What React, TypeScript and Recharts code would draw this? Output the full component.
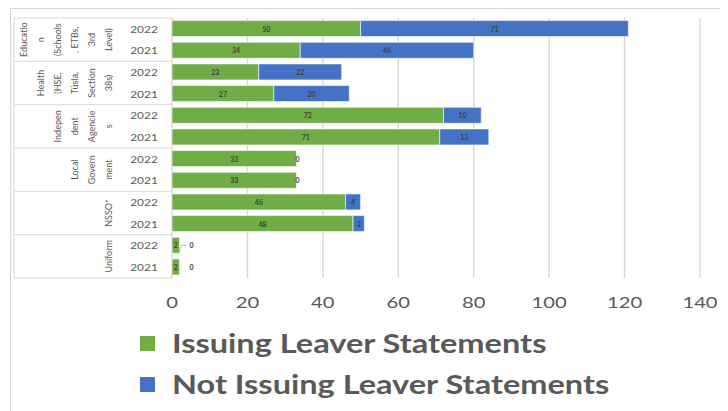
import React from "react";
import { BarChart, Bar, XAxis, YAxis, CartesianGrid, LabelList } from "recharts";

const groupLines: string[][] = [
  ["Educatio", "n", "(Schools", ", ETBs,", "3rd", "Level)"],
  ["Health", "(HSE,", "Túsla,", "Section", "38s)"],
  ["Indepen", "dent", "Agencie", "s"],
  ["Local", "Govern", "ment"],
  ["NSSO*"],
  ["Uniform"],
];
const years = ["2022", "2021"];
const issuing = [50, 34, 23, 27, 72, 71, 33, 33, 46, 48, 2, 2];
const notIssuing = [71, 46, 22, 20, 10, 13, 0, 0, 4, 3, 0, 0];
const xTicks = [0, 20, 40, 60, 80, 100, 120, 140];
const legendItems = ["Issuing Leaver Statements", "Not Issuing Leaver Statements"];

const GREEN = "#70AD47";
const BLUE = "#4472C4";
const TXT = "#595959";
const FONT = "Lato, sans-serif";

const data = issuing.map((v, i) => ({
  key: `${Math.floor(i / 2)}|${years[i % 2]}`,
  year: years[i % 2],
  group: Math.floor(i / 2),
  issuing: v,
  notIssuing: notIssuing[i],
}));

const PLOT_TOP = 18;
const PLOT_BOTTOM = 278;
const PITCH = (PLOT_BOTTOM - PLOT_TOP) / data.length;

const YTick = (props: any) => {
  const { y, index } = props;
  const d = data[index];
  const els: React.ReactNode[] = [];
  els.push(
    <g key="yr" transform={`translate(144 ${y}) scale(1.25 1)`}>
      <text x={0} y={0} textAnchor="middle" dominantBaseline="central" fontSize={9.5} fill={TXT} fontFamily={FONT}>
        {d.year}
      </text>
    </g>
  );
  if (index % 2 === 0) {
    const top = y - PITCH / 2;
    const cy = y + PITCH / 2;
    els.push(<line key="lt" x1={14} x2={172} y1={top} y2={top} stroke="#d9d9d9" strokeWidth={1} />);
    const lines = groupLines[d.group];
    const n = lines.length;
    lines.forEach((t, j) => {
      const cx = 108 - 17 * (n - 1 - j);
      els.push(
        <g key={"g" + j} transform={`translate(${cx} ${cy}) rotate(-90)`}>
          <text x={0} y={0} textAnchor="middle" dominantBaseline="central" fontSize={9} fill={TXT} fontFamily={FONT}>
            {t}
          </text>
        </g>
      );
    });
    if (index === data.length - 2) {
      const bot = y + PITCH * 1.5;
      els.push(<line key="lb" x1={14} x2={172} y1={bot} y2={bot} stroke="#d9d9d9" strokeWidth={1} />);
      els.push(<line key="lv" x1={14} x2={14} y1={PLOT_TOP} y2={bot} stroke="#d9d9d9" strokeWidth={1} />);
    }
  }
  return <g>{els}</g>;
};

const XTick = (props: any) => {
  const { x, payload } = props;
  return (
    <g transform={`translate(${x} 302) scale(1.35 1)`}>
      <text x={0} y={0} textAnchor="middle" dominantBaseline="central" fontSize={15} fill={TXT} fontFamily={FONT}>
        {payload.value}
      </text>
    </g>
  );
};

const SegLabel = (props: any) => {
  const { x, y, width, height, value } = props;
  if (!value) return null;
  return (
    <text x={x + width / 2} y={y + height / 2} textAnchor="middle" dominantBaseline="central" fontSize={7} fontWeight="bold" fill="#404040" fontFamily={FONT}>
      {value}
    </text>
  );
};

// label for zero-valued "not issuing" segments, placed at the end of the green bar
const ZeroLabel = (props: any) => {
  const { x, y, width, height, index } = props;
  const d = data[index];
  if (!d || d.notIssuing !== 0) return null;
  const endX = x + width;
  const small = d.issuing < 5;
  const lx = small ? endX + 12 : endX + 1;
  const cy = y + height / 2;
  return (
    <g>
      {small && d.year === "2022" ? (
        <polyline points={`${endX - 1},${cy + 8} ${endX + 2},${cy} ${endX + 7},${cy}`} fill="none" stroke="#a6a6a6" strokeWidth={0.8} />
      ) : null}
      <text x={lx} y={cy} textAnchor="middle" dominantBaseline="central" fontSize={7} fontWeight="bold" fill="#404040" fontFamily={FONT}>
        0
      </text>
    </g>
  );
};

export default function App() {
  const colors = [GREEN, BLUE];
  return (
    <div style={{ position: "relative", margin: "-8px 0 0 -8px", width: 728, height: 411, background: "#fff", overflow: "hidden" }}>
      <div style={{ position: "absolute", left: 10, top: 8, width: 730, height: 420, border: "1px solid #d9d9d9" }} />
      <BarChart
        width={728}
        height={411}
        data={data}
        layout="vertical"
        margin={{ top: PLOT_TOP, right: 28, bottom: 103, left: 0 }}
        barCategoryGap="12%"
        style={{ position: "absolute", left: 0, top: 0 }}
      >
        <CartesianGrid horizontal={false} stroke="#d9d9d9" strokeWidth={1.5} />
        <XAxis type="number" domain={[0, 140]} ticks={xTicks} axisLine={false} tickLine={false} height={30} tick={<XTick />} interval={0} />
        <YAxis type="category" dataKey="key" width={172} axisLine={false} tickLine={false} tick={<YTick />} interval={0} />
        <Bar dataKey="issuing" stackId="a" fill={GREEN} stroke="#ffffff" strokeWidth={0.6} isAnimationActive={false} name={legendItems[0]}>
          <LabelList dataKey="issuing" content={<SegLabel />} />
          <LabelList dataKey="notIssuing" content={<ZeroLabel />} />
        </Bar>
        <Bar dataKey="notIssuing" stackId="a" fill={BLUE} stroke="#ffffff" strokeWidth={0.6} isAnimationActive={false} name={legendItems[1]}>
          <LabelList dataKey="notIssuing" content={<SegLabel />} />
        </Bar>
      </BarChart>
      {legendItems.map((t, i) => (
        <div key={i} style={{ position: "absolute", left: 140, top: 328 + i * 41, height: 30, display: "flex", alignItems: "center", whiteSpace: "nowrap", fontFamily: FONT, fontWeight: 700, fontSize: 26, color: TXT }}>
          <div style={{ width: 15, height: 15, background: colors[i], marginRight: 17 }} />
          <span style={{ display: "inline-block", transform: "scaleX(1.25)", transformOrigin: "left center" }}>{t}</span>
        </div>
      ))}
    </div>
  );
}
